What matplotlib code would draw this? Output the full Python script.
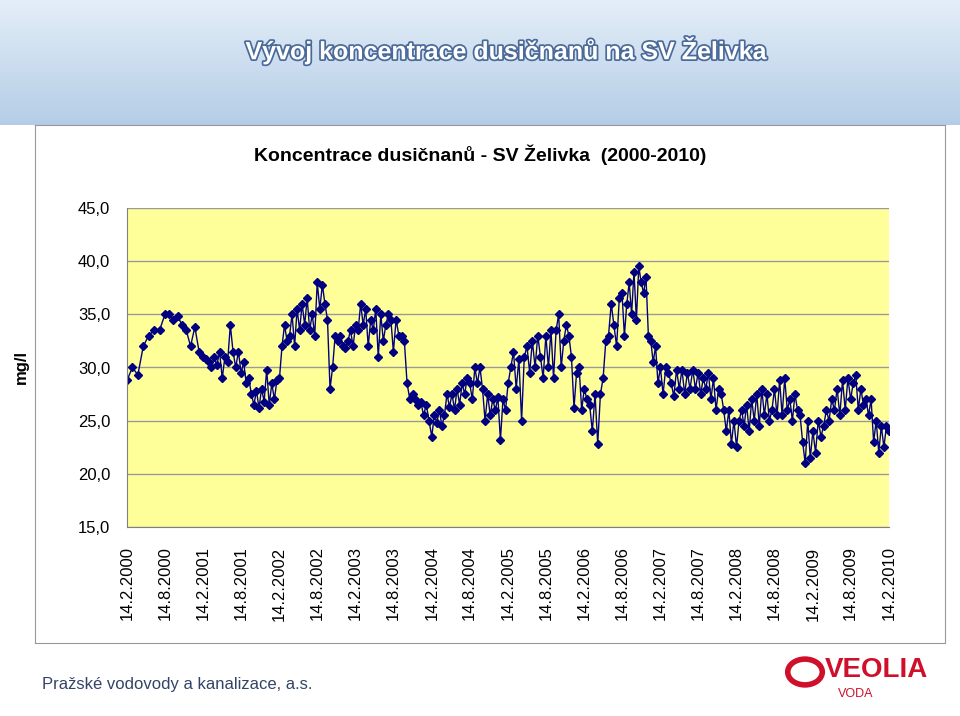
import matplotlib.pyplot as plt
import matplotlib.patheffects as pe
import numpy as np
import pandas as pd

# half-year boundaries 14.2 / 14.8 (mg/l)
seg_starts = pd.to_datetime([f"{y}-{m:02d}-14" for y in range(2000, 2011) for m in (2, 8)][:21])
segments = [
    [28.8, 30, 29.3, 32, 33, 33.5, 33.5],
    [35, 35, 34.5, 34.8, 34, 33.5, 32, 33.8, 31.5],
    [31, 30.8, 30.5, 30, 31, 30.2, 31.5, 29, 31, 30.5, 34, 31.5, 30, 31.5],
    [29.5, 30.5, 28.5, 29, 27.5, 26.5, 27.8, 26.2, 28, 26.8, 29.8, 26.5, 28.5, 27, 28.8],
    [29, 32, 34, 32.5, 33, 35, 32, 35.5, 33.5, 36, 34, 36.5, 33.5, 35, 33],
    [38, 35.5, 37.8, 36, 34.5, 28, 30, 33, 32.5, 33, 32, 31.8, 32.5, 33.5, 32],
    [34, 33.5, 36, 34, 35.5, 32, 34.5, 33.5, 35.5, 31, 35, 32.5, 34, 35, 34.5],
    [31.5, 34.5, 33, 33, 32.5, 28.5, 27, 27.5, 27, 26.5, 26.8, 25.5, 26.5, 25],
    [23.5, 25.5, 24.8, 26, 24.5, 25.5, 27.5, 26.3, 27.5, 26, 28, 26.5, 28.5, 27.5, 29],
    [28.5, 27, 30, 28.5, 30, 28, 25, 27.5, 25.5, 27, 26, 27.2, 23.2, 27, 26],
    [28.5, 30, 31.5, 28, 30.8, 25, 31, 32, 29.5, 32.5, 30, 33, 31, 29],
    [33, 30, 33.5, 29, 33.5, 35, 30, 32.5, 34, 33, 31, 26.2, 29.5, 30, 26],
    [28, 27, 26.5, 24, 27.5, 22.8, 27.5, 29, 32.5, 33, 36, 34, 32, 36.5],
    [37, 33, 36, 38, 35, 39, 34.5, 39.5, 38, 37, 38.5, 33, 32.5, 30.5, 32, 28.5],
    [30, 27.5, 30, 29.5, 28.5, 27.3, 29.8, 28, 29.8, 27.5, 29.5, 28, 29.8, 28],
    [29.5, 27.5, 29, 28, 29.5, 27, 29, 26, 28, 27.5, 26, 24, 26, 22.8, 25],
    [22.5, 25, 26, 24.5, 26.5, 24, 27, 25, 27.5, 24.5, 28, 25.5, 27.5, 25, 26],
    [28, 25.5, 28.8, 25.5, 29, 26, 27, 25, 27.5, 26, 25.5, 23, 21, 25, 21.5],
    [24, 22, 25, 23.5, 24.5, 26, 25, 27, 26, 28, 25.5, 28.8, 26, 29],
    [27, 28.5, 29.3, 26, 28, 26.5, 27, 25.5, 27, 23, 25, 22, 24.5, 22.5, 24.5],
]
last_value = 24.0

dates, values = [], []
for i, seg in enumerate(segments):
    d = pd.date_range(seg_starts[i], seg_starts[i + 1], periods=len(seg) + 1)[:-1]
    dates.extend(d)
    values.extend(seg)
dates.append(seg_starts[-1])
values.append(last_value)

tick_dates = seg_starts
tick_labels = [f"{d.day}.{d.month}.{d.year}" for d in tick_dates]

fig = plt.figure(figsize=(9.6, 7.16), dpi=100)

# header band
hdr = fig.add_axes([0, 1 - 125 / 716, 1, 125 / 716])
grad = np.linspace(0, 1, 256).reshape(-1, 1)
hdr.imshow(grad, aspect="auto", cmap=plt.matplotlib.colors.LinearSegmentedColormap.from_list(
    "h", ["#e4eef8", "#b4cde6"]), extent=[0, 1, 0, 1])
hdr.axis("off")
fig.text(0.527, 1 - 50 / 716, "Vývoj koncentrace dusičnanů na SV Želivka",
         ha="center", va="center", fontsize=18, color="white", fontweight="bold",
         family="Liberation Sans",
         path_effects=[pe.withStroke(linewidth=2.5, foreground="#4a6a9a")])

# chart box
box = fig.add_axes([35 / 960, 1 - 643 / 716, 910 / 960, 518 / 716])
box.set_xticks([]); box.set_yticks([])
for s in box.spines.values():
    s.set_color("#999999")

fig.text(0.50, 1 - 155 / 716, "Koncentrace dusičnanů - SV Želivka  (2000-2010)",
         ha="center", va="center", fontsize=14, fontweight="bold", family="Liberation Sans")

ax = fig.add_axes([127 / 960, 1 - 527 / 716, 762 / 960, 319 / 716])
ax.set_facecolor("#FFFF99")
ax.plot(dates, values, color="#000080", lw=1, marker="D", ms=4.5)
ax.set_ylim(15, 45)
ax.set_yticks(range(15, 46, 5))
ax.set_yticklabels([f"{v},0" for v in range(15, 46, 5)], fontsize=12, family="Liberation Sans")
ax.grid(axis="y", color="#999999", lw=1)
ax.set_xlim(tick_dates[0], tick_dates[-1])
ax.set_xticks(tick_dates)
ax.set_xticklabels(tick_labels, rotation=90, fontsize=12, family="Liberation Sans")
ax.tick_params(length=0, pad=12)
ax.tick_params(axis="x", pad=14)
for s in ["top", "right"]:
    ax.spines[s].set_visible(False)
ax.spines["left"].set_color("#808080")
ax.spines["bottom"].set_color("#808080")
ax.set_ylabel("mg/l", fontsize=12, fontweight="bold", family="Liberation Sans", labelpad=35)

fig.text(42 / 960, 1 - 685 / 716, "Pražské vodovody a kanalizace, a.s.",
         fontsize=12, color="#334466", va="center", family="Liberation Sans")
fig.text(825 / 960, 1 - 670 / 716, "VEOLIA", fontsize=20, fontweight="bold",
         color="#d0102b", va="center", family="Liberation Sans")
fig.text(838 / 960, 1 - 694 / 716, "VODA", fontsize=9, color="#d0102b",
         va="center", family="Liberation Sans")
fig.patches.append(plt.Circle((805 / 960, 1 - 672 / 716), 0.018, transform=fig.transFigure,
                              fill=False, ec="#d0102b", lw=4))

fig.savefig("out.png", dpi=100)
